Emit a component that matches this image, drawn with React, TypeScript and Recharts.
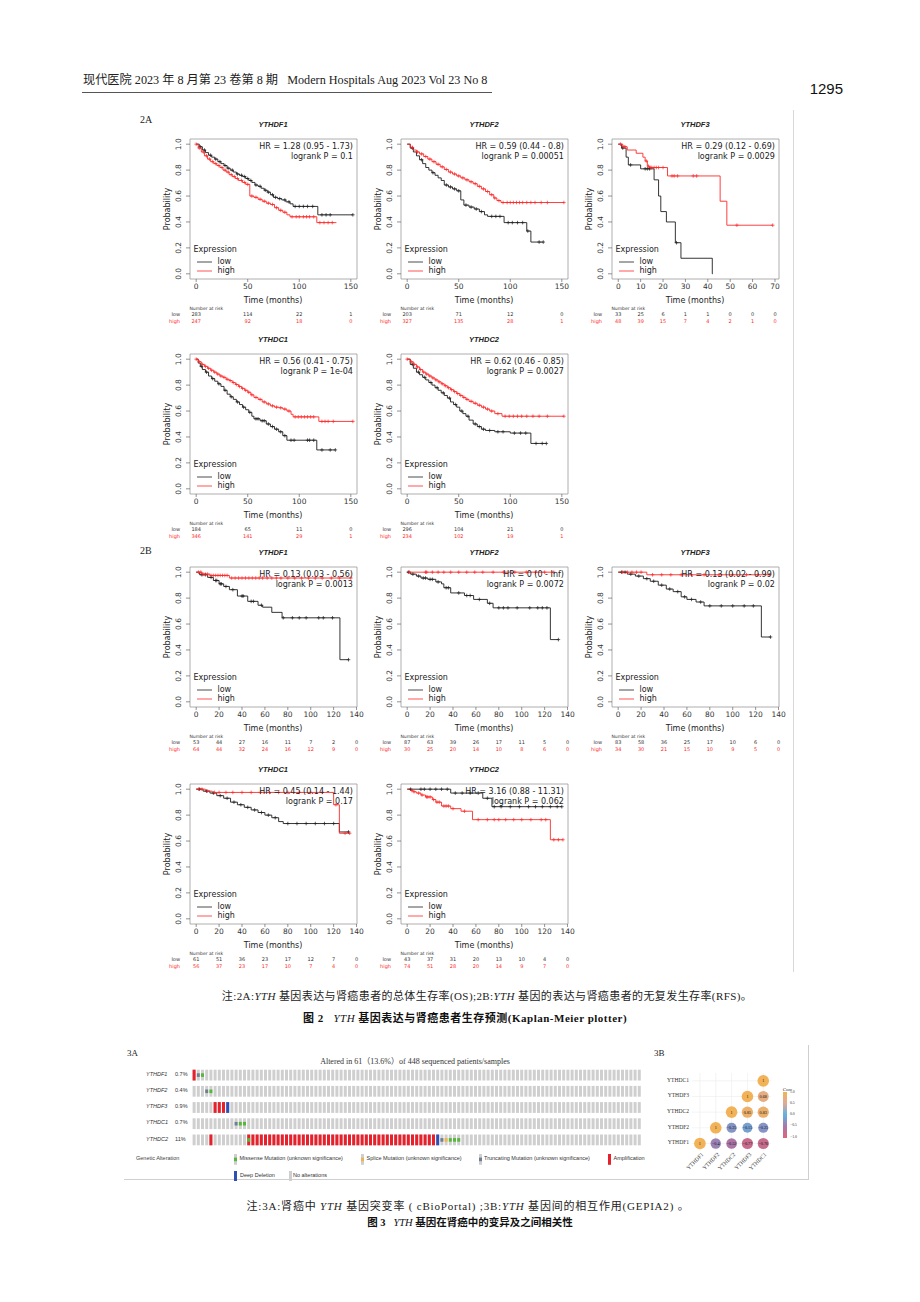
import React from 'react';
import { ComposedChart, Line, Scatter, XAxis, YAxis, ReferenceArea, ReferenceLine } from 'recharts';

type Pt = [number, number];

// ---------------- Figure 2A (OS) ----------------
const A_DF1_LOW: Pt[] = [[0,1],[3,0.98],[6,0.955],[9,0.935],[12,0.915],[15,0.9],[18,0.885],[21,0.865],[24,0.85],[27,0.835],[30,0.815],[33,0.8],[36,0.785],[39,0.77],[42,0.76],[45,0.75],[48,0.735],[51,0.72],[54,0.705],[57,0.685],[60,0.675],[63,0.66],[66,0.645],[69,0.63],[72,0.61],[75,0.59],[79,0.58],[83,0.57],[87,0.555],[91,0.54],[94,0.52],[118,0.455],[152,0.455]];
const A_DF1_LOW_C: Pt[] = [[4,0.98],[8,0.955],[14,0.915],[19,0.885],[23,0.865],[28,0.835],[31,0.815],[35,0.8],[40,0.77],[44,0.76],[47,0.75],[50,0.735],[53,0.72],[58,0.685],[62,0.675],[67,0.645],[70,0.63],[74,0.61],[77,0.59],[81,0.58],[86,0.57],[90,0.555],[96,0.52],[100,0.52],[104,0.52],[108,0.52],[113,0.52],[122,0.455],[126,0.455],[130,0.455],[152,0.455]];
const A_DF1_HIGH: Pt[] = [[0,1],[2,0.97],[5,0.94],[8,0.91],[11,0.885],[14,0.865],[17,0.85],[20,0.835],[23,0.82],[26,0.8],[29,0.785],[32,0.765],[35,0.75],[38,0.735],[41,0.72],[45,0.705],[48,0.69],[52,0.6],[56,0.59],[60,0.575],[64,0.56],[68,0.545],[72,0.535],[76,0.51],[80,0.49],[84,0.475],[88,0.455],[91,0.44],[117,0.395],[136,0.395]];
const A_DF1_HIGH_C: Pt[] = [[0,1],[3,0.97],[7,0.94],[10,0.91],[13,0.885],[16,0.865],[19,0.85],[22,0.835],[25,0.82],[28,0.8],[31,0.785],[34,0.765],[37,0.75],[40,0.735],[44,0.72],[47,0.705],[50,0.69],[54,0.6],[58,0.59],[62,0.575],[66,0.56],[70,0.545],[74,0.535],[78,0.51],[82,0.49],[86,0.475],[93,0.44],[97,0.44],[100,0.44],[104,0.44],[107,0.44],[110,0.44],[114,0.44],[120,0.395],[124,0.395],[128,0.395],[132,0.395]];
const A_DF1_RISK_LOW = [283, 114, 22, 1];
const A_DF1_RISK_HIGH = [247, 92, 18, 0];

const A_DF2_LOW: Pt[] = [[0,1],[3,0.97],[6,0.94],[9,0.91],[12,0.88],[15,0.85],[18,0.82],[21,0.8],[24,0.78],[27,0.76],[30,0.74],[33,0.72],[36,0.685],[40,0.67],[44,0.655],[48,0.64],[52,0.57],[55,0.53],[60,0.515],[65,0.5],[70,0.48],[75,0.455],[78,0.443],[94,0.395],[116,0.33],[120,0.245],[132,0.245]];
const A_DF2_LOW_C: Pt[] = [[5,0.97],[14,0.88],[25,0.78],[38,0.685],[42,0.67],[46,0.655],[50,0.64],[57,0.53],[62,0.515],[67,0.5],[72,0.48],[82,0.443],[86,0.443],[90,0.443],[98,0.395],[102,0.395],[107,0.395],[112,0.395],[117,0.33],[128,0.245],[132,0.245]];
const A_DF2_HIGH: Pt[] = [[0,1],[3,0.975],[6,0.955],[9,0.94],[12,0.925],[16,0.905],[20,0.885],[24,0.865],[28,0.845],[32,0.825],[36,0.805],[40,0.785],[44,0.77],[48,0.755],[52,0.74],[56,0.725],[60,0.71],[64,0.695],[68,0.675],[72,0.655],[76,0.635],[80,0.61],[84,0.585],[87,0.565],[91,0.55],[152,0.55]];
const A_DF2_HIGH_C: Pt[] = [[5,0.975],[10,0.94],[14,0.925],[18,0.905],[22,0.885],[26,0.865],[30,0.845],[34,0.825],[38,0.805],[42,0.785],[46,0.77],[50,0.755],[54,0.74],[58,0.725],[62,0.71],[66,0.695],[70,0.675],[74,0.655],[78,0.635],[82,0.61],[85,0.585],[89,0.565],[93,0.55],[97,0.55],[100,0.55],[103,0.55],[106,0.55],[109,0.55],[112,0.55],[116,0.55],[120,0.55],[124,0.55],[130,0.55],[136,0.55],[152,0.55]];
const A_DF2_RISK_LOW = [203, 71, 12, 0];
const A_DF2_RISK_HIGH = [327, 135, 28, 1];

const A_DF3_LOW: Pt[] = [[0,1],[1.5,0.97],[3.5,0.9],[4.5,0.84],[10,0.81],[16,0.725],[18,0.6],[19,0.48],[21.5,0.4],[25.5,0.24],[28,0.12],[42,0],[42.2,0]];
const A_DF3_LOW_C: Pt[] = [[2,0.97],[5.5,0.84],[12,0.81],[13,0.81],[14,0.81],[26,0.24]];
const A_DF3_HIGH: Pt[] = [[0,1],[2,0.98],[4,0.955],[8,0.93],[11,0.9],[12,0.87],[13,0.83],[14,0.82],[22,0.755],[45.5,0.56],[48.5,0.375],[69,0.375]];
const A_DF3_HIGH_C: Pt[] = [[1,1],[2.5,0.98],[3,0.98],[12.5,0.87],[13.5,0.83],[14.5,0.82],[15,0.82],[16,0.82],[17,0.82],[18,0.82],[20,0.82],[24,0.755],[25,0.755],[26.5,0.755],[33.5,0.755],[35,0.755],[53,0.375],[69,0.375]];
const A_DF3_RISK_LOW = [33, 25, 6, 1, 1, 0, 0, 0];
const A_DF3_RISK_HIGH = [48, 39, 15, 7, 4, 2, 1, 0];

const A_DC1_LOW: Pt[] = [[0,1],[2,0.97],[4,0.945],[6,0.92],[9,0.9],[12,0.87],[15,0.85],[18,0.83],[21,0.81],[24,0.79],[27,0.76],[30,0.73],[33,0.71],[36,0.69],[39,0.67],[42,0.65],[45,0.63],[48,0.61],[51,0.59],[54,0.56],[56,0.54],[62,0.525],[68,0.5],[72,0.48],[76,0.46],[80,0.44],[84,0.41],[88,0.375],[117,0.3],[135,0.3]];
const A_DC1_LOW_C: Pt[] = [[5,0.945],[10,0.9],[16,0.85],[22,0.81],[28,0.76],[34,0.71],[40,0.67],[46,0.63],[52,0.59],[58,0.54],[60,0.54],[64,0.525],[66,0.525],[70,0.5],[74,0.48],[78,0.46],[82,0.44],[86,0.41],[92,0.375],[95,0.375],[108,0.375],[110,0.375],[114,0.375],[122,0.3],[130,0.3],[135,0.3]];
const A_DC1_HIGH: Pt[] = [[0,1],[2,0.98],[5,0.96],[8,0.945],[11,0.93],[14,0.915],[17,0.9],[20,0.885],[23,0.87],[26,0.86],[29,0.845],[32,0.835],[35,0.82],[38,0.805],[41,0.79],[44,0.775],[47,0.76],[50,0.745],[53,0.725],[56,0.705],[60,0.69],[64,0.67],[68,0.655],[72,0.64],[76,0.63],[80,0.625],[84,0.615],[88,0.6],[92,0.575],[94,0.555],[119,0.52],[152,0.52]];
const A_DC1_HIGH_C: Pt[] = [[0,1],[3,0.98],[6,0.96],[9,0.945],[12,0.93],[15,0.915],[18,0.9],[21,0.885],[24,0.87],[27,0.86],[30,0.845],[33,0.835],[36,0.82],[39,0.805],[42,0.79],[45,0.775],[48,0.76],[51,0.745],[54,0.725],[58,0.705],[62,0.69],[66,0.67],[70,0.655],[74,0.64],[78,0.63],[82,0.625],[86,0.615],[90,0.6],[96,0.555],[99,0.555],[102,0.555],[105,0.555],[108,0.555],[111,0.555],[114,0.555],[122,0.52],[125,0.52],[128,0.52],[133,0.52],[152,0.52]];
const A_DC1_RISK_LOW = [184, 65, 11, 0];
const A_DC1_RISK_HIGH = [346, 141, 29, 1];

const A_DC2_LOW: Pt[] = [[0,1],[3,0.96],[6,0.93],[9,0.9],[12,0.88],[15,0.86],[18,0.84],[21,0.82],[24,0.8],[27,0.78],[30,0.76],[33,0.74],[36,0.72],[39,0.7],[42,0.67],[45,0.65],[48,0.63],[51,0.6],[54,0.58],[57,0.56],[60,0.53],[64,0.5],[68,0.48],[72,0.46],[76,0.45],[85,0.44],[100,0.43],[120,0.35],[135,0.35]];
const A_DC2_LOW_C: Pt[] = [[5,0.96],[11,0.9],[17,0.86],[23,0.82],[29,0.78],[35,0.74],[41,0.7],[47,0.65],[53,0.6],[59,0.56],[66,0.5],[70,0.48],[74,0.46],[80,0.45],[88,0.44],[93,0.44],[104,0.43],[110,0.43],[115,0.43],[125,0.35],[131,0.35],[135,0.35]];
const A_DC2_HIGH: Pt[] = [[0,1],[3,0.98],[6,0.96],[9,0.94],[12,0.92],[15,0.9],[18,0.885],[21,0.87],[24,0.855],[27,0.84],[30,0.825],[33,0.81],[36,0.795],[39,0.78],[42,0.765],[45,0.75],[48,0.735],[51,0.72],[54,0.705],[57,0.69],[60,0.675],[64,0.66],[68,0.645],[72,0.63],[76,0.615],[80,0.6],[85,0.58],[92,0.56],[152,0.56]];
const A_DC2_HIGH_C: Pt[] = [[0,1],[4,0.98],[7,0.96],[10,0.94],[13,0.92],[16,0.9],[19,0.885],[22,0.87],[25,0.855],[28,0.84],[31,0.825],[34,0.81],[37,0.795],[40,0.78],[43,0.765],[46,0.75],[49,0.735],[52,0.72],[55,0.705],[58,0.69],[62,0.675],[66,0.66],[70,0.645],[74,0.63],[78,0.615],[82,0.6],[88,0.58],[95,0.56],[99,0.56],[103,0.56],[107,0.56],[111,0.56],[116,0.56],[122,0.56],[128,0.56],[136,0.56],[152,0.56]];
const A_DC2_RISK_LOW = [296, 104, 21, 0];
const A_DC2_RISK_HIGH = [234, 102, 19, 1];

// ---------------- Figure 2B (RFS) ----------------
const B_DF1_LOW: Pt[] = [[0,1],[3,0.98],[10,0.96],[15,0.936],[20,0.91],[24,0.89],[29,0.865],[36,0.816],[45,0.775],[54,0.745],[58,0.73],[66,0.69],[75,0.648],[125.5,0.325],[133,0.325]];
const B_DF1_LOW_C: Pt[] = [[5,0.98],[8,0.98],[13,0.96],[17,0.936],[18,0.936],[21,0.91],[22,0.91],[26,0.89],[32,0.865],[40,0.816],[41,0.816],[48,0.775],[50,0.775],[57,0.745],[76,0.648],[84,0.648],[90,0.648],[96,0.648],[107,0.648],[111,0.648],[119,0.648],[133,0.325]];
const B_DF1_HIGH: Pt[] = [[0,1],[5,0.985],[12,0.975],[29,0.955],[135,0.955]];
const B_DF1_HIGH_C: Pt[] = [[2,1],[4,1],[6,0.985],[8,0.985],[10,0.985],[13,0.975],[15,0.975],[17,0.975],[19,0.975],[21,0.975],[23,0.975],[25,0.975],[27,0.975],[31,0.955],[34,0.955],[37,0.955],[40,0.955],[43,0.955],[46,0.955],[49,0.955],[52,0.955],[55,0.955],[58,0.955],[62,0.955],[66,0.955],[70,0.955],[74,0.955],[80,0.955],[86,0.955],[92,0.955],[98,0.955],[104,0.955],[110,0.955],[118,0.955],[125,0.955],[135,0.955]];
const B_DF1_RISK_LOW = [53, 44, 27, 16, 11, 7, 2, 0];
const B_DF1_RISK_HIGH = [64, 44, 32, 24, 16, 12, 9, 0];

const B_DF2_LOW: Pt[] = [[0,1],[3,0.985],[8,0.97],[12,0.955],[18,0.945],[25,0.925],[30,0.91],[32,0.88],[38,0.84],[50,0.82],[58,0.79],[70,0.76],[75,0.725],[125,0.48],[132,0.48]];
const B_DF2_LOW_C: Pt[] = [[1,1],[5,0.985],[10,0.97],[14,0.955],[16,0.955],[20,0.945],[22,0.945],[27,0.925],[34,0.88],[36,0.88],[45,0.84],[52,0.82],[55,0.82],[63,0.79],[72,0.76],[80,0.725],[84,0.725],[88,0.725],[96,0.725],[107,0.725],[114,0.725],[118,0.725],[122,0.725],[132,0.48]];
const B_DF2_HIGH: Pt[] = [[0,1],[128,1]];
const B_DF2_HIGH_C: Pt[] = [[2,1],[16,1],[17,1],[22,1],[27,1],[32,1],[38,1],[45,1],[52,1],[59,1],[66,1],[75,1],[84,1],[94,1],[104,1],[112,1],[120,1],[128,1]];
const B_DF2_RISK_LOW = [87, 63, 39, 26, 17, 11, 5, 0];
const B_DF2_RISK_HIGH = [30, 25, 20, 14, 10, 8, 6, 0];

const B_DF3_LOW: Pt[] = [[0,1],[8,0.985],[15,0.97],[22,0.95],[28,0.93],[35,0.9],[42,0.87],[48,0.85],[55,0.81],[60,0.79],[68,0.77],[75,0.74],[125,0.5],[133,0.5]];
const B_DF3_LOW_C: Pt[] = [[3,1],[6,1],[11,0.985],[18,0.97],[25,0.95],[31,0.93],[38,0.9],[45,0.87],[52,0.85],[58,0.81],[64,0.79],[72,0.77],[80,0.74],[90,0.74],[100,0.74],[110,0.74],[118,0.74],[133,0.5]];
const B_DF3_HIGH: Pt[] = [[0,1],[25,0.98],[132,0.98]];
const B_DF3_HIGH_C: Pt[] = [[4,1],[8,1],[12,1],[16,1],[20,1],[30,0.98],[38,0.98],[46,0.98],[55,0.98],[64,0.98],[75,0.98],[88,0.98],[100,0.98],[112,0.98],[122,0.98],[132,0.98]];
const B_DF3_RISK_LOW = [83, 58, 36, 25, 17, 10, 6, 0];
const B_DF3_RISK_HIGH = [34, 30, 21, 15, 10, 9, 5, 0];

const B_DC1_LOW: Pt[] = [[0,1],[6,0.985],[12,0.97],[18,0.95],[24,0.93],[30,0.9],[36,0.88],[42,0.86],[48,0.84],[54,0.82],[60,0.8],[66,0.78],[72,0.75],[76,0.735],[125,0.67],[133,0.67]];
const B_DC1_LOW_C: Pt[] = [[3,1],[9,0.985],[15,0.97],[21,0.95],[27,0.93],[33,0.9],[39,0.88],[45,0.86],[51,0.84],[57,0.82],[63,0.8],[69,0.78],[80,0.735],[88,0.735],[96,0.735],[104,0.735],[112,0.735],[120,0.735],[133,0.67]];
const B_DC1_HIGH: Pt[] = [[0,1],[8,0.985],[14,0.975],[120,0.88],[125,0.66],[134,0.66]];
const B_DC1_HIGH_C: Pt[] = [[2,1],[5,1],[10,0.985],[16,0.975],[20,0.975],[26,0.975],[32,0.975],[40,0.975],[48,0.975],[56,0.975],[64,0.975],[72,0.975],[80,0.975],[90,0.975],[100,0.975],[110,0.975],[122,0.88],[130,0.66],[134,0.66]];
const B_DC1_RISK_LOW = [61, 51, 36, 23, 17, 12, 7, 0];
const B_DC1_RISK_HIGH = [56, 37, 23, 17, 10, 7, 4, 0];

const B_DC2_LOW: Pt[] = [[0,1],[38,0.97],[66,0.93],[74,0.865],[135,0.865]];
const B_DC2_LOW_C: Pt[] = [[3,1],[12,1],[15,1],[20,1],[25,1],[30,1],[35,1],[42,0.97],[48,0.97],[55,0.97],[62,0.97],[70,0.93],[76,0.865],[82,0.865],[90,0.865],[98,0.865],[106,0.865],[112,0.865],[118,0.865],[125,0.865],[131,0.865],[135,0.865]];
const B_DC2_HIGH: Pt[] = [[0,1],[3,0.99],[5,0.98],[8,0.97],[12,0.955],[16,0.94],[22,0.92],[25,0.9],[30,0.87],[38,0.85],[47,0.83],[57,0.765],[125,0.61],[136,0.61]];
const B_DC2_HIGH_C: Pt[] = [[4,0.99],[6,0.98],[10,0.97],[13,0.955],[17,0.94],[18,0.94],[20,0.94],[23,0.92],[26,0.9],[28,0.9],[32,0.87],[34,0.87],[36,0.87],[40,0.85],[50,0.83],[62,0.765],[70,0.765],[76,0.765],[80,0.765],[86,0.765],[93,0.765],[100,0.765],[108,0.765],[117,0.765],[121,0.765],[128,0.61],[132,0.61],[136,0.61]];
const B_DC2_RISK_LOW = [43, 37, 31, 20, 13, 10, 4, 0];
const B_DC2_RISK_HIGH = [74, 51, 28, 20, 14, 9, 7, 0];

const TICKS_150 = [0, 50, 100, 150];
const TICKS_140 = [0, 20, 40, 60, 80, 100, 120, 140];
const TICKS_70 = [0, 10, 20, 30, 40, 50, 60, 70];
const Y_TICKS = [0, 0.2, 0.4, 0.6, 0.8, 1.0];

// ---------------- Figure 3A oncoprint ----------------
const ONCO_GENES = ['YTHDF1', 'YTHDF2', 'YTHDF3', 'YTHDC1', 'YTHDC2'];
const ONCO_PCT = ['0.7%', '0.4%', '0.9%', '0.7%', '11%'];
const ONCO_N = 107;
// A amplification, a amplification+missense, D deep deletion, M missense, T truncating, S splice, . none
const ONCO_ROWS = [
  'ATM',
  '...TM',
  '.....AAAD',
  '..........TMM',
  '....A........aAAAAAAAAAAAAAAAAAAAAAAAAAAAAAAAAAAAAAAAAAAAADTSMMM',
];

// ---------------- Figure 3B correlation ----------------
const CORR_GENES = ['YTHDF1', 'YTHDF2', 'YTHDC2', 'YTHDF3', 'YTHDC1'];
const CORR_VALUES: (number | null)[][] = [
  [1, -0.4, -0.52, -0.77, -0.76],
  [null, 1, -0.25, -0.15, -0.25],
  [null, null, 1, 0.85, 0.83],
  [null, null, null, 1, 0.68],
  [null, null, null, null, 1],
];
const CORR_BAR_TICKS = ['1.0', '0.5', '0.0', '−0.5', '−1.0'];

// ---------------- helpers ----------------
const KMF = '"DejaVu Sans", sans-serif';
const SERIF = '"Liberation Serif", "Noto Sans CJK SC", serif';
const CJK = '"Liberation Serif", "Noto Sans CJK SC", serif';
const RED = '#ff2a2a';
const BLACK = '#1e1e1e';

const rows = (pts: Pt[]) => pts.map(([t, s]) => ({ t, s }));

type Anchor = 'start' | 'middle' | 'end';
function Tx(props: { x: number; y: number; children: React.ReactNode; size?: number; anchor?: Anchor; color?: string; font?: string; weight?: number; italic?: boolean; rotate?: number; ls?: number }) {
  const { x, y, children, size = 8, anchor = 'start', color = '#333', font = KMF, weight = 400, italic = false, rotate = 0, ls = 0 } = props;
  const tx = anchor === 'start' ? '0' : anchor === 'middle' ? '-50%' : '-100%';
  return (
    <div style={{ position: 'absolute', left: x, top: y, transform: `translate(${tx},-50%)${rotate ? ` rotate(${rotate}deg)` : ''}`, fontSize: size, lineHeight: 1, color, fontFamily: font, fontWeight: weight, fontStyle: italic ? 'italic' : 'normal', whiteSpace: 'nowrap', letterSpacing: ls }}>
      {children}
    </div>
  );
}

const plus = (color: string) => (p: any) => {
  const { cx, cy } = p;
  if (cx == null || cy == null) return <g />;
  return <path d={`M${cx - 1.8},${cy}h3.6M${cx},${cy - 1.8}v3.6`} stroke={color} strokeWidth={0.7} fill="none" />;
};

interface KMCfg {
  boxLeft: number; boxTop: number; title: string; hr: string; p: string;
  xDomain: [number, number]; xTicks: number[];
  low: Pt[]; lowC: Pt[]; high: Pt[]; highC: Pt[]; riskLow: number[]; riskHigh: number[];
}

const BOX_W = 167;
const BOX_H = 140;

function KM({ c }: { c: KMCfg }) {
  const left = c.boxLeft - 45;
  const top = c.boxTop - 22;
  const bottom = c.boxTop + BOX_H;
  const XTick = (p: any) => {
    const { x, y, payload } = p;
    const i = c.xTicks.indexOf(payload.value);
    return (
      <g>
        <text x={x} y={y + 7.2} textAnchor="middle" fontSize={7.5} fill="#333" fontFamily={KMF}>{payload.value}</text>
        <text x={x} y={y + 34.3} textAnchor="middle" fontSize={5} fill="#333" fontFamily={KMF}>{c.riskLow[i]}</text>
        <text x={x} y={y + 40.8} textAnchor="middle" fontSize={5} fill={RED} fontFamily={KMF}>{c.riskHigh[i]}</text>
      </g>
    );
  };
  const YTick = (p: any) => {
    const { x, y, payload } = p;
    const xx = x - 3.3;
    return <text x={xx} y={y} transform={`rotate(-90 ${xx} ${y})`} textAnchor="middle" fontSize={7.5} fill="#333" fontFamily={KMF}>{Number(payload.value).toFixed(1)}</text>;
  };
  return (
    <>
      <div style={{ position: 'absolute', left, top, width: 220, height: 212 }}>
        <ComposedChart width={220} height={212} margin={{ top: 22, right: 8, bottom: 30, left: 5 }}>
          <XAxis type="number" dataKey="t" domain={c.xDomain} ticks={c.xTicks} interval={0} allowDataOverflow height={20} tickSize={3} tickMargin={0} axisLine={false} tickLine={{ stroke: '#666', strokeWidth: 0.7 }} tick={XTick} />
          <YAxis type="number" dataKey="s" domain={[-0.04, 1.04]} ticks={Y_TICKS} interval={0} allowDataOverflow width={40} tickSize={4} tickMargin={2} axisLine={false} tickLine={{ stroke: '#666', strokeWidth: 0.7 }} tick={YTick} />
          <ReferenceArea x1={c.xDomain[0]} x2={c.xDomain[1]} y1={-0.04} y2={1.04} fill="none" fillOpacity={0} stroke="#9a9a9a" strokeWidth={0.8} ifOverflow="visible" />
          <Line data={rows(c.low)} dataKey="s" type="stepAfter" stroke={BLACK} strokeWidth={0.9} dot={false} isAnimationActive={false} />
          <Line data={rows(c.high)} dataKey="s" type="stepAfter" stroke={RED} strokeWidth={0.9} dot={false} isAnimationActive={false} />
          <Scatter data={rows(c.lowC)} dataKey="s" shape={plus(BLACK)} isAnimationActive={false} />
          <Scatter data={rows(c.highC)} dataKey="s" shape={plus(RED)} isAnimationActive={false} />
        </ComposedChart>
      </div>
      <Tx x={c.boxLeft + BOX_W / 2} y={c.boxTop - 13.5} size={7.5} anchor="middle" weight={700} italic font='"Liberation Sans", Arial, sans-serif' color="#222">{c.title}</Tx>
      <Tx x={c.boxLeft + 163.4} y={c.boxTop + 8.8} anchor="end" color="#222">{c.hr}</Tx>
      <Tx x={c.boxLeft + 163.4} y={c.boxTop + 18.2} anchor="end" color="#222">{c.p}</Tx>
      <Tx x={c.boxLeft - 22} y={c.boxTop + 70} anchor="middle" rotate={-90} color="#222">Probability</Tx>
      <Tx x={c.boxLeft + BOX_W / 2} y={bottom + 22} anchor="middle" color="#222">Time (months)</Tx>
      <Tx x={c.boxLeft + 4} y={c.boxTop + 111.5} color="#222">Expression</Tx>
      <svg style={{ position: 'absolute', left: c.boxLeft + 6, top: c.boxTop + 119, overflow: 'visible' }} width={18} height={16}>
        <line x1={1} x2={16} y1={4} y2={4} stroke={BLACK} strokeWidth={0.8} />
        <line x1={1} x2={16} y1={13} y2={13} stroke={RED} strokeWidth={0.8} />
      </svg>
      <Tx x={c.boxLeft + 28} y={c.boxTop + 123} color="#222">low</Tx>
      <Tx x={c.boxLeft + 28} y={c.boxTop + 132} color="#222">high</Tx>
      <Tx x={c.boxLeft} y={bottom + 30} size={4.5} color="#333">Number at risk</Tx>
      <Tx x={c.boxLeft - 9.5} y={bottom + 35.5} size={5} anchor="end" color="#333">low</Tx>
      <Tx x={c.boxLeft - 9.5} y={bottom + 42} size={5} anchor="end" color={RED}>high</Tx>
    </>
  );
}

const D150: [number, number] = [-6, 156];
const D140: [number, number] = [-5.4, 140.4];
const D70: [number, number] = [-2.8, 71.8];

const PANELS: KMCfg[] = [
  { boxLeft: 189.5, boxTop: 138.5, title: 'YTHDF1', hr: 'HR = 1.28 (0.95 - 1.73)', p: 'logrank P = 0.1', xDomain: D150, xTicks: TICKS_150, low: A_DF1_LOW, lowC: A_DF1_LOW_C, high: A_DF1_HIGH, highC: A_DF1_HIGH_C, riskLow: A_DF1_RISK_LOW, riskHigh: A_DF1_RISK_HIGH },
  { boxLeft: 400.5, boxTop: 138.5, title: 'YTHDF2', hr: 'HR = 0.59 (0.44 - 0.8)', p: 'logrank P = 0.00051', xDomain: D150, xTicks: TICKS_150, low: A_DF2_LOW, lowC: A_DF2_LOW_C, high: A_DF2_HIGH, highC: A_DF2_HIGH_C, riskLow: A_DF2_RISK_LOW, riskHigh: A_DF2_RISK_HIGH },
  { boxLeft: 611.5, boxTop: 138.5, title: 'YTHDF3', hr: 'HR = 0.29 (0.12 - 0.69)', p: 'logrank P = 0.0029', xDomain: D70, xTicks: TICKS_70, low: A_DF3_LOW, lowC: A_DF3_LOW_C, high: A_DF3_HIGH, highC: A_DF3_HIGH_C, riskLow: A_DF3_RISK_LOW, riskHigh: A_DF3_RISK_HIGH },
  { boxLeft: 189.5, boxTop: 353.5, title: 'YTHDC1', hr: 'HR = 0.56 (0.41 - 0.75)', p: 'logrank P = 1e-04', xDomain: D150, xTicks: TICKS_150, low: A_DC1_LOW, lowC: A_DC1_LOW_C, high: A_DC1_HIGH, highC: A_DC1_HIGH_C, riskLow: A_DC1_RISK_LOW, riskHigh: A_DC1_RISK_HIGH },
  { boxLeft: 400.5, boxTop: 353.5, title: 'YTHDC2', hr: 'HR = 0.62 (0.46 - 0.85)', p: 'logrank P = 0.0027', xDomain: D150, xTicks: TICKS_150, low: A_DC2_LOW, lowC: A_DC2_LOW_C, high: A_DC2_HIGH, highC: A_DC2_HIGH_C, riskLow: A_DC2_RISK_LOW, riskHigh: A_DC2_RISK_HIGH },
  { boxLeft: 189.5, boxTop: 566.5, title: 'YTHDF1', hr: 'HR = 0.13 (0.03 - 0.56)', p: 'logrank P = 0.0013', xDomain: D140, xTicks: TICKS_140, low: B_DF1_LOW, lowC: B_DF1_LOW_C, high: B_DF1_HIGH, highC: B_DF1_HIGH_C, riskLow: B_DF1_RISK_LOW, riskHigh: B_DF1_RISK_HIGH },
  { boxLeft: 400.5, boxTop: 566.5, title: 'YTHDF2', hr: 'HR = 0 (0 - Inf)', p: 'logrank P = 0.0072', xDomain: D140, xTicks: TICKS_140, low: B_DF2_LOW, lowC: B_DF2_LOW_C, high: B_DF2_HIGH, highC: B_DF2_HIGH_C, riskLow: B_DF2_RISK_LOW, riskHigh: B_DF2_RISK_HIGH },
  { boxLeft: 611.5, boxTop: 566.5, title: 'YTHDF3', hr: 'HR = 0.13 (0.02 - 0.99)', p: 'logrank P = 0.02', xDomain: D140, xTicks: TICKS_140, low: B_DF3_LOW, lowC: B_DF3_LOW_C, high: B_DF3_HIGH, highC: B_DF3_HIGH_C, riskLow: B_DF3_RISK_LOW, riskHigh: B_DF3_RISK_HIGH },
  { boxLeft: 189.5, boxTop: 783.5, title: 'YTHDC1', hr: 'HR = 0.45 (0.14 - 1.44)', p: 'logrank P = 0.17', xDomain: D140, xTicks: TICKS_140, low: B_DC1_LOW, lowC: B_DC1_LOW_C, high: B_DC1_HIGH, highC: B_DC1_HIGH_C, riskLow: B_DC1_RISK_LOW, riskHigh: B_DC1_RISK_HIGH },
  { boxLeft: 400.5, boxTop: 783.5, title: 'YTHDC2', hr: 'HR = 3.16 (0.88 - 11.31)', p: 'logrank P = 0.062', xDomain: D140, xTicks: TICKS_140, low: B_DC2_LOW, lowC: B_DC2_LOW_C, high: B_DC2_HIGH, highC: B_DC2_HIGH_C, riskLow: B_DC2_RISK_LOW, riskHigh: B_DC2_RISK_HIGH },
];

// ---------------- oncoprint ----------------
const ONCO_COLORS: Record<string, string> = { A: '#e8202c', D: '#2f4fb5', M: '#56b83a', T: '#6f7f8f', S: '#f0b24e' };
const ONCO_PITCH = 4.2;
const ONCO_LEFT = 192.1;
const ONCO_TOP = 1066.6;
const ONCO_ROWH = 16.2;

function Oncoprint() {
  const cells: { x: number; y: number; k: string }[] = [];
  const alts: { x: number; y: number; k: string }[] = [];
  ONCO_ROWS.forEach((r, gi) => {
    for (let i = 0; i < ONCO_N; i++) {
      cells.push({ x: i, y: gi, k: '.' });
      const ch = r[i];
      if (ch && ch !== '.') alts.push({ x: i, y: gi, k: ch });
    }
  });
  const bg = (p: any) => <rect x={p.cx - 1.5} y={p.cy - 5.4} width={3} height={10.8} fill="#cfcfcf" />;
  const alt = (p: any) => {
    const k = p.payload.k;
    const { cx, cy } = p;
    if (k === 'A' || k === 'D') return <rect x={cx - 1.5} y={cy - 5.4} width={3} height={10.8} fill={ONCO_COLORS[k]} />;
    if (k === 'a') return <g><rect x={cx - 1.5} y={cy - 5.4} width={3} height={10.8} fill={ONCO_COLORS.A} /><rect x={cx - 1.5} y={cy - 1.8} width={3} height={3.6} fill={ONCO_COLORS.M} /></g>;
    return <rect x={cx - 1.5} y={cy - 1.8} width={3} height={3.6} fill={ONCO_COLORS[k]} />;
  };
  const w = ONCO_N * ONCO_PITCH;
  const h = ONCO_ROWH * 5;
  return (
    <div style={{ position: 'absolute', left: ONCO_LEFT, top: ONCO_TOP, width: w, height: h }}>
      <ComposedChart width={w} height={h} margin={{ top: 0, right: 0, bottom: 0, left: 0 }}>
        <XAxis type="number" dataKey="x" domain={[-0.5, ONCO_N - 0.5]} hide />
        <YAxis type="number" dataKey="y" domain={[-0.5, 4.5]} reversed hide />
        <Scatter data={cells} shape={bg} isAnimationActive={false} />
        <Scatter data={alts} shape={alt} isAnimationActive={false} />
      </ComposedChart>
    </div>
  );
}

function OncoLegend() {
  const sw = (x: number, y: number, k: string) => {
    const full = k === 'A' || k === 'D';
    return (
      <svg style={{ position: 'absolute', left: x, top: y - 5.4 }} width={3} height={10.8}>
        <rect x={0} y={0} width={3} height={10.8} fill={full ? ONCO_COLORS[k] : '#cfcfcf'} />
        {!full && k !== '.' && <rect x={0} y={3.6} width={3} height={3.6} fill={ONCO_COLORS[k]} />}
      </svg>
    );
  };
  const F = '"Liberation Sans", Arial, sans-serif';
  return (
    <>
      <Tx x={136} y={1159.3} size={5.5} font={F} color="#444">Genetic Alteration</Tx>
      {sw(234, 1159.3, 'M')}<Tx x={239.5} y={1159.3} size={5.5} font={F} color="#333">Missense Mutation (unknown significance)</Tx>
      {sw(360.5, 1159.3, 'S')}<Tx x={366.5} y={1159.3} size={5.5} font={F} color="#333">Splice Mutation (unknown significance)</Tx>
      {sw(479, 1159.3, 'T')}<Tx x={484} y={1159.3} size={5.5} font={F} color="#333">Truncating Mutation (unknown significance)</Tx>
      {sw(607.5, 1159.3, 'A')}<Tx x={613.5} y={1159.3} size={5.5} font={F} color="#333">Amplification</Tx>
      {sw(234, 1176, 'D')}<Tx x={240} y={1176} size={5.5} font={F} color="#333">Deep Deletion</Tx>
      {sw(288.5, 1176, '.')}<Tx x={293} y={1176} size={5.5} font={F} color="#333">No alterations</Tx>
    </>
  );
}

// ---------------- correlation ----------------
const CORR_STOPS: [number, number[]][] = [[-1, [224, 100, 116]], [-0.5, [170, 118, 170]], [0, [96, 178, 226]], [0.5, [222, 170, 150]], [1, [242, 178, 88]]];
function corrColor(v: number) {
  for (let i = 0; i < CORR_STOPS.length - 1; i++) {
    const [a, ca] = CORR_STOPS[i];
    const [b, cb] = CORR_STOPS[i + 1];
    if (v >= a && v <= b) {
      const f = (v - a) / (b - a);
      const c = ca.map((q, j) => Math.round(q + (cb[j] - q) * f));
      return `rgb(${c[0]},${c[1]},${c[2]})`;
    }
  }
  return 'rgb(242,178,88)';
}

const CORR_LEFT = 692.1;
const CORR_TOP = 1072.9;
const CORR_W = 79.2;
const CORR_H = 78.3;

function CorrPlot() {
  const pts: { x: number; y: number; v: number }[] = [];
  CORR_VALUES.forEach((row, ri) => row.forEach((v, ci) => { if (v !== null) pts.push({ x: ci + 1, y: ri + 1, v }); }));
  const shape = (p: any) => {
    const { cx, cy } = p;
    const v = p.payload.v;
    const r = 4.8 + Math.abs(v) * 1.0;
    return (
      <g>
        <circle cx={cx} cy={cy} r={r} fill={corrColor(v)} />
        <text x={cx} y={cy + 1.5} textAnchor="middle" fontSize={4.2} fill="#111" fontFamily={SERIF}>{v === 1 ? '1' : String(v).replace('-', '−')}</text>
      </g>
    );
  };
  const gx = CORR_W / 5;
  const gy = CORR_H / 5;
  return (
    <>
      <div style={{ position: 'absolute', left: CORR_LEFT, top: CORR_TOP, width: CORR_W, height: CORR_H }}>
        <ComposedChart width={CORR_W} height={CORR_H} margin={{ top: 0, right: 0, bottom: 0, left: 0 }}>
          <XAxis type="number" dataKey="x" domain={[0.5, 5.5]} hide />
          <YAxis type="number" dataKey="y" domain={[0.5, 5.5]} hide />
          {[1, 2, 3, 4, 5].map((k) => <ReferenceLine key={'v' + k} x={k} stroke="#ececec" strokeWidth={0.6} />)}
          {[1, 2, 3, 4, 5].map((k) => <ReferenceLine key={'h' + k} y={k} stroke="#ececec" strokeWidth={0.6} />)}
          <Scatter data={pts} shape={shape} isAnimationActive={false} />
        </ComposedChart>
      </div>
      {CORR_GENES.map((g, i) => (
        <Tx key={'r' + g} x={CORR_LEFT - 3} y={CORR_TOP + CORR_H - gy * (i + 0.5)} size={5.6} anchor="end" font={SERIF} color="#333">{g}</Tx>
      ))}
      {CORR_GENES.map((g, i) => (
        <div key={'c' + g} style={{ position: 'absolute', left: CORR_LEFT + gx * (i + 0.5) + 3, top: CORR_TOP + CORR_H + 3, transform: 'translate(-100%,-50%) rotate(-45deg)', transformOrigin: '100% 50%', fontSize: 5.6, lineHeight: 1, fontFamily: SERIF, color: '#333', whiteSpace: 'nowrap' }}>{g}</div>
      ))}
      <Tx x={782.7} y={1088.5} size={5} font={SERIF} color="#333">Corr</Tx>
      <div style={{ position: 'absolute', left: 782.7, top: 1092, width: 4.2, height: 45.5, background: 'linear-gradient(to bottom, rgb(242,178,88), rgb(222,170,150) 25%, rgb(96,178,226) 50%, rgb(170,118,170) 75%, rgb(224,100,116))' }} />
      {CORR_BAR_TICKS.map((t, i) => (
        <Tx key={t} x={790} y={1092.7 + i * 11.25} size={3.8} font={SERIF} color="#333">{t}</Tx>
      ))}
    </>
  );
}

export default function App() {
  return (
    <div style={{ position: 'absolute', left: 0, top: 0, width: 920, height: 1302, background: '#fff', overflow: 'hidden', fontFamily: CJK }}>
      {/* header */}
      <Tx x={83} y={79.5} size={12.2} font={CJK} color="#222">现代医院 2023 年 8 月第 23 卷第 8 期&nbsp;&nbsp;&nbsp;Modern Hospitals Aug 2023 Vol 23 No 8</Tx>
      <div style={{ position: 'absolute', left: 82, top: 92, width: 410, height: 0.8, background: '#555' }} />
      <Tx x={843} y={87.5} size={15} anchor="end" font='"Liberation Sans", Arial, sans-serif' color="#111">1295</Tx>

      {/* figure 2 frame */}
      <div style={{ position: 'absolute', left: 133, top: 110, width: 660, height: 862, borderRight: '1px solid #d8d8d8' }} />
      <Tx x={140} y={120} size={10} font={SERIF} color="#222">2A</Tx>
      <Tx x={140} y={551} size={10} font={SERIF} color="#222">2B</Tx>
      {PANELS.map((c, i) => <KM key={i} c={c} />)}

      {/* figure 2 caption */}
      <Tx x={487} y={996} size={11} ls={0.4} anchor="middle" font={CJK} color="#222">注:2A:<i>YTH</i> 基因表达与肾癌患者的总体生存率(OS);2B:<i>YTH</i> 基因的表达与肾癌患者的无复发生存率(RFS)。</Tx>
      <Tx x={465} y={1018} size={11} ls={0.5} anchor="middle" font={CJK} weight={700} color="#111">图 2&nbsp;&nbsp;&nbsp;<i style={{ fontWeight: 400 }}>YTH</i> 基因表达与肾癌患者生存预测(Kaplan-Meier plotter)</Tx>

      {/* figure 3 */}
      <div style={{ position: 'absolute', left: 124, top: 1045, width: 684, height: 134, borderRight: '1px solid #cfcfcf', borderBottom: '1px solid #cfcfcf' }} />
      <Tx x={127} y={1053} size={9} font={SERIF} color="#222">3A</Tx>
      <Tx x={654} y={1053} size={9} font={SERIF} color="#222">3B</Tx>
      <Tx x={415} y={1062} size={8} anchor="middle" font={SERIF} color="#333">Altered in 61（13.6%）of 448 sequenced patients/samples</Tx>
      {ONCO_GENES.map((g, i) => (
        <React.Fragment key={g}>
          <Tx x={146} y={ONCO_TOP + ONCO_ROWH * (i + 0.5)} size={5.5} font='"Liberation Sans", Arial, sans-serif' italic color="#333">{g}</Tx>
          <Tx x={175} y={ONCO_TOP + ONCO_ROWH * (i + 0.5)} size={5.5} font='"Liberation Sans", Arial, sans-serif' color="#333">{ONCO_PCT[i]}</Tx>
        </React.Fragment>
      ))}
      <Oncoprint />
      <OncoLegend />
      <CorrPlot />

      {/* figure 3 caption */}
      <Tx x={468} y={1206} size={11} ls={0.8} anchor="middle" font={CJK} color="#222">注:3A:肾癌中 <i>YTH</i> 基因突变率 ( cBioPortal) ;3B:<i>YTH</i> 基因间的相互作用(GEPIA2) 。</Tx>
      <Tx x={470} y={1223} size={10.5} anchor="middle" font={CJK} weight={700} color="#111">图 3&nbsp;&nbsp;&nbsp;<i style={{ fontWeight: 400 }}>YTH</i> 基因在肾癌中的变异及之间相关性</Tx>
    </div>
  );
}
